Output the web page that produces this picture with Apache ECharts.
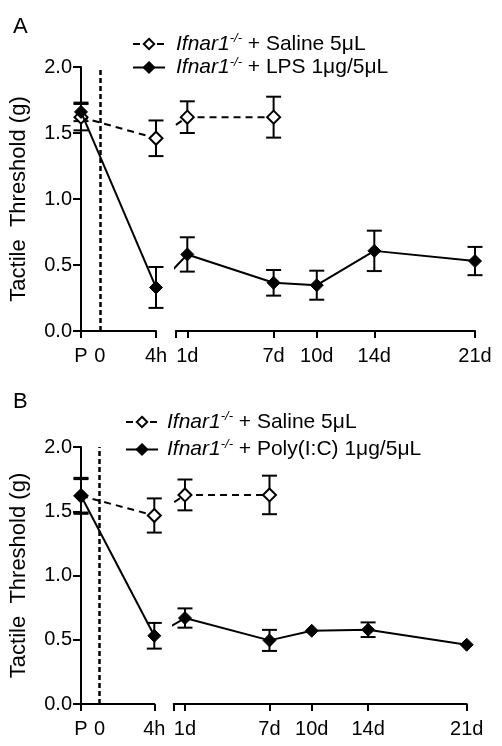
<!DOCTYPE html>
<html>
<head>
<meta charset="utf-8">
<script src="https://cdn.jsdelivr.net/npm/echarts@6/dist/echarts.min.js"></script>
<style>
html,body{margin:0;padding:0;background:#fff;}
#c{width:502px;height:746px;}
</style>
</head>
<body>
<div id="c"></div>
<script>
// ---------- DATA ----------
const leftLabels = ['P', '0', '4h'];
const leftTimes = [-1.35, 0, 4];          // hours (P = pre-injection baseline)
const rightLabels = ['1d', '7d', '10d', '14d', '21d'];
const rightDays = [1, 7, 10, 14, 21];     // days
const yTicks = [0, 0.5, 1.0, 1.5, 2.0];

const salineName = 'Ifnar1-/- + Saline 5μL';
const lpsName = 'Ifnar1-/- + LPS 1μg/5μL';
const polyName = 'Ifnar1-/- + Poly(I:C) 1μg/5μL';

// Panel A  (order: P, 4h, 1d, 7d, 10d, 14d, 21d)
const aSalineMean = [1.62, 1.46, 1.62, 1.62];
const aSalineSem  = [0.10, 0.135, 0.12, 0.155];
const aLpsMean = [1.66, 0.33, 0.58, 0.365, 0.347, 0.607, 0.53];
const aLpsSem  = [0.07, 0.155, 0.13, 0.097, 0.11, 0.153, 0.107];

// Panel B
const bSalineMean = [1.62, 1.467, 1.627, 1.627];
const bSalineSem  = [0.14, 0.133, 0.12, 0.15];
const bPolyMean = [1.62, 0.531, 0.669, 0.495, 0.57, 0.578, 0.461];
const bPolySem  = [0.13, 0.10, 0.075, 0.082, 0.02, 0.057, 0.02];

// ---------- CHART ----------
const FONT = '"Liberation Sans", Arial, Helvetica, sans-serif';
const chart = echarts.init(document.getElementById('c'), null, {renderer: 'canvas'});

function leftPts(m) { return [[leftTimes[0], m[0]], [leftTimes[2], m[1]]]; }
function rightPts(m) { return m.slice(2).map((v, i) => [rightDays[i], v]); }
function leftErr(m, s) { return [[leftTimes[0], m[0] - s[0], m[0] + s[0]], [leftTimes[2], m[1] - s[1], m[1] + s[1]]]; }
function rightErr(m, s) { return m.slice(2).map((v, i) => [rightDays[i], v - s[i + 2], v + s[i + 2]]); }

function errRender(params, api) {
  const x = api.value(0), lo = api.value(1), hi = api.value(2);
  const pLo = api.coord([x, lo]), pHi = api.coord([x, hi]);
  if (Math.abs(pLo[1] - pHi[1]) / 2 < 7) return null; // hidden behind symbol
  const hw = 7.5;
  const st = {stroke: '#000', lineWidth: 2};
  return {type: 'group', children: [
    {type: 'line', shape: {x1: pLo[0], y1: pLo[1], x2: pHi[0], y2: pHi[1]}, style: st},
    {type: 'line', shape: {x1: pLo[0] - hw, y1: pLo[1], x2: pLo[0] + hw, y2: pLo[1]}, style: st},
    {type: 'line', shape: {x1: pHi[0] - hw, y1: pHi[1], x2: pHi[0] + hw, y2: pHi[1]}, style: st}
  ]};
}

function lineStyleFor(open) {
  return open ? {color: '#000', width: 2, type: [7, 5]} : {color: '#000', width: 2, type: 'solid'};
}
function itemStyleFor(open) {
  return open ? {color: '#fff', borderColor: '#000', borderWidth: 2} : {color: '#000', borderColor: '#000', borderWidth: 1};
}

function groupSeries(name, open, mean, sem, gl, gr, bridgeX, withMark) {
  const base = {
    type: 'line', name: name, symbol: 'diamond', symbolSize: 13,
    lineStyle: lineStyleFor(open), itemStyle: itemStyleFor(open),
    z: open ? 3 : 4, clip: true, animation: false
  };
  const left = Object.assign({}, base, {xAxisIndex: gl, yAxisIndex: gl, data: leftPts(mean)});
  if (withMark) {
    left.markLine = {
      silent: true, symbol: 'none', label: {show: false},
      lineStyle: {color: '#000', width: 2.5, type: [5, 3]},
      data: [{xAxis: leftTimes[1]}]
    };
  }
  const rData = rightPts(mean);
  if (bridgeX !== null) rData.unshift({value: [bridgeX, mean[1]], symbol: 'none'});
  const right = Object.assign({}, base, {xAxisIndex: gr, yAxisIndex: gr, data: rData});
  const errCommon = {type: 'custom', renderItem: errRender, z: 1, silent: true, encode: {x: 0, y: [1, 2]}};
  return [
    Object.assign({}, errCommon, {name: name + ' err L', xAxisIndex: gl, yAxisIndex: gl, data: leftErr(mean, sem)}),
    Object.assign({}, errCommon, {name: name + ' err R', xAxisIndex: gr, yAxisIndex: gr, data: rightErr(mean, sem)}),
    left, right
  ];
}

const axisTxt = {color: '#000', fontSize: 20, fontFamily: FONT};

function leftX(gi) {
  return {
    type: 'value', gridIndex: gi, min: leftTimes[0], max: leftTimes[2],
    axisLine: {onZero: false, lineStyle: {color: '#000', width: 2}},
    axisTick: {length: 7, lineStyle: {color: '#000', width: 2}, customValues: [leftTimes[0], leftTimes[2]]},
    axisLabel: Object.assign({}, axisTxt, {margin: 15, customValues: leftTimes,
      formatter: v => { const i = leftTimes.indexOf(v); return i >= 0 ? leftLabels[i] : ''; }}),
    splitLine: {show: false}
  };
}
function rightX(gi) {
  return {
    type: 'value', gridIndex: gi, min: 0.2, max: 21,
    axisLine: {onZero: false, lineStyle: {color: '#000', width: 2}},
    axisTick: {length: 7, lineStyle: {color: '#000', width: 2}, customValues: [0.2].concat(rightDays)},
    axisLabel: Object.assign({}, axisTxt, {margin: 15, customValues: rightDays,
      formatter: v => { const i = rightDays.indexOf(v); return i >= 0 ? rightLabels[i] : ''; }}),
    splitLine: {show: false}
  };
}
function leftY(gi) {
  return {
    type: 'value', gridIndex: gi, min: 0, max: 2, interval: 0.5,
    name: 'Tactile  Threshold (g)', nameLocation: 'middle', nameGap: 51,
    nameTextStyle: {color: '#000', fontSize: 22, fontFamily: FONT},
    axisLine: {show: true, onZero: false, lineStyle: {color: '#000', width: 2}},
    axisTick: {show: true, length: 8, lineStyle: {color: '#000', width: 2}},
    axisLabel: Object.assign({}, axisTxt, {margin: 9, formatter: v => v.toFixed(1)}),
    splitLine: {show: false}
  };
}
function rightY(gi) {
  return {type: 'value', gridIndex: gi, min: 0, max: 2, interval: 0.5, show: false, splitLine: {show: false}};
}

const rich = {
  i: {fontStyle: 'italic', fontSize: 21, fontFamily: FONT, color: '#000', lineHeight: 24},
  s: {fontStyle: 'italic', fontSize: 13, fontFamily: FONT, color: '#000', verticalAlign: 'top', lineHeight: 24, padding: [0, 0, 8, 0]},
  n: {fontSize: 21, fontFamily: FONT, color: '#000', lineHeight: 24}
};
function legendFmt(name) {
  const rest = name.replace('Ifnar1-/-', '');
  return '{i|Ifnar1}{s|-/-}{n|' + rest + '}';
}
function legendOf(names, left, top, gap, pad) {
  return {
    data: names, orient: 'vertical', left: left, top: top, itemGap: gap,
    itemWidth: 32, itemHeight: 13, selectedMode: false, formatter: legendFmt,
    textStyle: {rich: rich, padding: [0, 0, 0, pad], fontSize: 21, fontFamily: FONT, color: '#000'}
  };
}

function buildOption(bridges) {
  return {
    animation: false,
    backgroundColor: '#fff',
    title: [
      {text: 'A', left: 8, top: 11, textStyle: {fontSize: 22, fontWeight: 'normal', color: '#000', fontFamily: FONT}},
      {text: 'B', left: 8, top: 386, textStyle: {fontSize: 22, fontWeight: 'normal', color: '#000', fontFamily: FONT}}
    ],
    legend: [
      legendOf([salineName, lpsName], 127, 27, 1, 6),
      legendOf([salineName, polyName], 120, 405, 5, 4)
    ],
    grid: [
      {left: 81, top: 67, width: 75, height: 264},
      {left: 175.8, top: 67, width: 299.2, height: 264},
      {left: 81, top: 447, width: 73.3, height: 257},
      {left: 173.7, top: 447, width: 293, height: 257}
    ],
    xAxis: [leftX(0), rightX(1), leftX(2), rightX(3)],
    yAxis: [leftY(0), rightY(1), leftY(2), rightY(3)],
    series: [].concat(
      groupSeries(salineName, true, aSalineMean, aSalineSem, 0, 1, bridges[0], true),
      groupSeries(lpsName, false, aLpsMean, aLpsSem, 0, 1, bridges[0], false),
      groupSeries(salineName, true, bSalineMean, bSalineSem, 2, 3, bridges[1], true),
      groupSeries(polyName, false, bPolyMean, bPolySem, 2, 3, bridges[1], false)
    )
  };
}

chart.setOption(buildOption([null, null]));
// line continues across the axis break: locate the 4h point on the right-hand (day) scale
const bA = chart.convertFromPixel({xAxisIndex: 1}, chart.convertToPixel({xAxisIndex: 0}, leftTimes[2]));
const bB = chart.convertFromPixel({xAxisIndex: 3}, chart.convertToPixel({xAxisIndex: 2}, leftTimes[2]));
chart.setOption(buildOption([bA, bB]), {notMerge: true});
</script>
</body>
</html>
